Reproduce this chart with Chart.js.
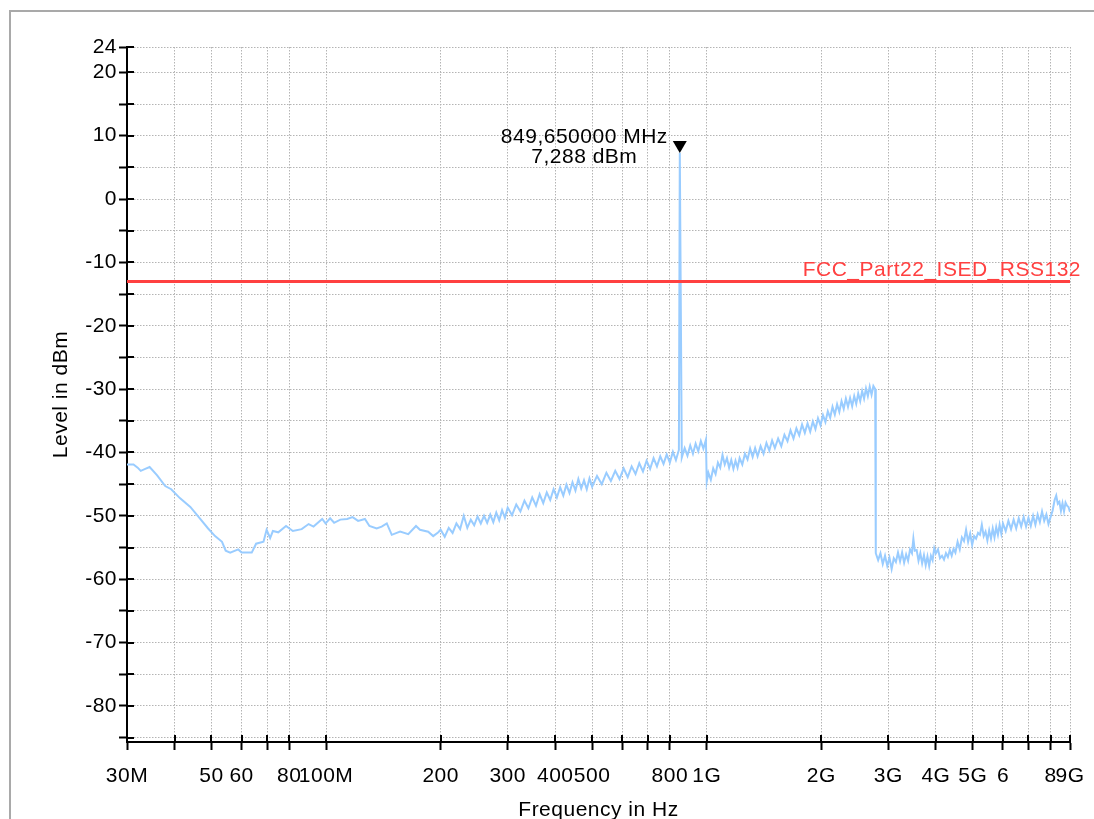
<!DOCTYPE html>
<html>
<head>
<meta charset="utf-8">
<script src="https://cdn.jsdelivr.net/npm/chart.js@4.4.1/dist/chart.umd.min.js"></script>
<style>
  html, body { margin: 0; padding: 0; background: #fff; }
  #wrap { position: relative; width: 1094px; height: 819px; overflow: hidden; }
  #frame { position: absolute; left: 9px; top: 10px; width: 1200px; height: 900px;
           border-left: 2px solid #a9a9a9; border-top: 2px solid #a9a9a9; }
  canvas { position: absolute; left: 0; top: 0; }
</style>
</head>
<body>
<div id="wrap"><div id="frame"></div><canvas id="chart" width="1094" height="819"></canvas></div>
<script>
// sweep 30 MHz - 200 MHz
const bandAFreq = [
  30, 31.2, 32, 32.6, 33.5, 34.4, 36, 37.8, 39.2, 41.3,
  44, 46.6, 49, 51.1, 53.3, 54.5, 56, 58.8, 60, 63.8,
  65.5, 68.5, 69.8, 71.3, 72.5, 74.9, 78.5, 81.8, 86.3, 90,
  92.7, 97.7, 99.7, 102.5, 105, 109, 113.6, 117.4, 121.4, 126.5,
  130, 135.8, 140, 144.4, 148.8, 156.5, 164.4, 172.3, 176.5, 185.5,
  191.2, 197.2
];
const bandALevel = [
  -41.9, -41.9, -42.4, -42.9, -42.6, -42.3, -43.6, -45.3, -45.8, -47.2,
  -48.6, -50.4, -52.0, -53.2, -54.1, -55.5, -55.8, -55.3, -55.8, -55.8,
  -54.4, -54.1, -52.2, -53.5, -52.4, -52.6, -51.6, -52.4, -52.1, -51.3,
  -51.7, -50.5, -51.2, -50.4, -51.1, -50.6, -50.5, -50.2, -50.8, -50.5,
  -51.6, -52.0, -51.7, -51.2, -53.0, -52.5, -52.9, -51.6, -52.2, -52.5,
  -53.2, -52.6
];
// 200 MHz - 1 GHz (carrier at 849.65 MHz)
const bandBFreq = [
  200, 205, 210, 215, 220, 225, 230, 235, 240, 245,
  250, 255, 260, 265, 270, 275, 280, 285, 290, 295,
  300, 308, 316, 324, 332, 340, 348, 356, 364, 372,
  380, 388, 396, 404, 412, 420, 428, 436, 444, 452,
  460, 468, 476, 484, 492, 500, 515, 530, 545, 560,
  575, 590, 605, 620, 635, 650, 665, 680, 695, 710,
  725, 740, 755, 770, 785, 800, 815, 830, 845, 849.65,
  860, 875, 890, 905, 920, 935, 950, 965, 980, 995
];
const bandBLevel = [
  -52.2, -53.3, -51.9, -52.7, -51.2, -52.1, -50.0, -51.9, -50.6, -51.5,
  -50.1, -51.2, -50.0, -51.1, -49.8, -51.0, -49.5, -50.7, -49.1, -50.3,
  -48.7, -49.9, -48.2, -49.3, -47.6, -48.8, -47.1, -48.4, -46.6, -48.0,
  -46.3, -47.5, -45.8, -47.1, -45.5, -46.8, -45.1, -46.4, -44.7, -46.0,
  -44.2, -45.7, -44.4, -45.8, -44.1, -45.4, -43.7, -45.0, -43.2, -44.5,
  -42.9, -44.2, -42.5, -43.9, -42.2, -43.4, -41.7, -43.0, -41.3, -42.6,
  -40.9, -42.2, -40.6, -41.8, -40.3, -41.6, -39.9, -41.2, -39.6, 7.288,
  -40.8, -39.3, -40.5, -38.9, -40.2, -38.6, -39.8, -38.2, -39.4, -38.0
];
// 1 GHz - 2.78 GHz
const bandCFreq = [
  1000, 1010, 1025, 1040, 1055, 1070, 1085, 1100, 1115, 1130,
  1145, 1160, 1175, 1190, 1205, 1220, 1240, 1260, 1280, 1300,
  1320, 1340, 1360, 1385, 1410, 1435, 1460, 1485, 1510, 1540,
  1570, 1600, 1630, 1660, 1690, 1720, 1750, 1780, 1810, 1840,
  1870, 1900, 1930, 1960, 1990, 2020, 2050, 2080, 2110, 2140,
  2170, 2200, 2230, 2260, 2290, 2320, 2350, 2380, 2410, 2440,
  2470, 2500, 2530, 2560, 2590, 2620, 2650, 2680, 2710, 2740,
  2770
];
const bandCLevel = [
  -44.6, -43.2, -44.3, -42.5, -43.4, -41.6, -42.4, -40.4, -41.9, -40.9,
  -42.4, -41.2, -42.6, -41.3, -42.4, -40.9, -41.9, -40.2, -41.1, -39.4,
  -40.7, -39.3, -40.6, -39.0, -40.2, -38.5, -39.7, -38.1, -39.3, -37.8,
  -39.0, -37.2, -38.2, -36.5, -37.8, -36.2, -37.3, -35.6, -36.9, -35.4,
  -36.7, -35.1, -36.3, -34.6, -35.7, -34.1, -35.2, -33.5, -34.5, -32.8,
  -34.0, -32.4, -33.6, -31.9, -33.1, -31.5, -32.8, -31.4, -32.7, -31.1,
  -32.3, -30.7, -31.9, -30.3, -31.5, -29.9, -31.1, -29.6, -30.9, -29.5,
  -30.0
];
// 2.78 GHz - 9 GHz
const bandDFreq = [
  2780, 2820, 2860, 2900, 2940, 2980, 3020, 3060, 3100, 3140,
  3180, 3220, 3260, 3300, 3340, 3380, 3420, 3460, 3490, 3520,
  3560, 3600, 3640, 3680, 3720, 3760, 3800, 3840, 3880, 3920,
  3960, 4000, 4050, 4100, 4150, 4200, 4250, 4300, 4350, 4400,
  4450, 4500, 4560, 4620, 4680, 4740, 4800, 4860, 4920, 4980,
  5040, 5100, 5160, 5220, 5280, 5340, 5400, 5460, 5520, 5580,
  5640, 5700, 5760, 5820, 5880, 5940, 6000, 6100, 6200, 6300,
  6400, 6500, 6600, 6700, 6800, 6900, 7000, 7100, 7200, 7300,
  7400, 7500, 7600, 7700, 7800, 7900, 8000, 8100, 8200, 8280,
  8360, 8440, 8520, 8600, 8680, 8760, 8840, 8920, 9000
];
const bandDLevel = [
  -55.9, -57.0, -55.9, -57.6, -56.3, -57.9, -56.6, -58.4, -56.7, -57.3,
  -55.8, -57.2, -55.8, -57.4, -56.1, -57.1, -55.3, -55.9, -53.6, -55.5,
  -55.4, -57.1, -55.9, -57.5, -56.2, -57.8, -56.4, -57.9, -56.3, -57.0,
  -55.1, -55.9, -55.3, -56.7, -56.3, -56.9, -55.9, -56.5, -55.4, -56.3,
  -55.2, -55.8, -54.1, -55.3, -53.4, -54.0, -52.2, -54.1, -52.8, -54.6,
  -53.2, -53.6, -52.7, -53.0, -51.4, -53.2, -52.5, -53.9, -52.3, -53.6,
  -52.0, -53.4, -51.8, -53.0, -51.4, -52.8, -51.2, -52.4, -50.8, -52.1,
  -50.6, -52.0, -50.4, -51.7, -50.2, -51.7, -50.3, -51.6, -50.0, -51.4,
  -49.8, -51.0, -49.3, -50.8, -49.8, -51.3, -50.2, -49.2, -47.5, -46.8,
  -48.1, -47.8, -49.2, -48.0, -49.3, -47.9, -48.4, -48.6, -49.4
];

const xMin = 30, xMax = 9000;
const yMin = -85.7, yMax = 24;
const xTickValues = [30, 40, 50, 60, 70, 80, 100, 200, 300, 400, 500, 600, 700, 800,
                     1000, 2000, 3000, 4000, 5000, 6000, 7000, 8000, 9000];
const xTickLabels = ['30M', '', '50', '60', '', '80', '100M', '200', '300', '400', '500', '', '', '800',
                     '1G', '2G', '3G', '4G', '5G', '6', '', '8', '9G'];
const yTickValues = [24, 20, 15, 10, 5, 0, -5, -10, -15, -20, -25, -30, -35, -40, -45,
                     -50, -55, -60, -65, -70, -75, -80, -85];
const yTickLabels = ['24', '20', '', '10', '', '0', '', '-10', '', '-20', '', '-30', '', '-40', '',
                     '-50', '', '-60', '', '-70', '', '-80', ''];

const limitName = 'FCC_Part22_ISED_RSS132';
const limitLevel = -13;
const markerFreq = 849.65;
const markerLevel = 7.288;
const markerText = ['849,650000 MHz', '7,288 dBm'];

const traceColor = '#99ccff';
const limitColor = '#ff4040';
const gridColor = '#b4b4b4';
const fontFamily = '"Liberation Sans", Arial, Helvetica, sans-serif';
const fontSize = 21;

const freqMHz = [...bandAFreq, ...bandBFreq, ...bandCFreq, ...bandDFreq];
const levelDbm = [...bandALevel, ...bandBLevel, ...bandCLevel, ...bandDLevel];

Chart.defaults.font.family = fontFamily;
Chart.defaults.font.size = fontSize;
Chart.defaults.color = '#000';

const spacing = {
    id: 'spacing',
    beforeUpdate(chart) { chart.ctx.letterSpacing = '0.5px'; },
    beforeDraw(chart) { chart.ctx.letterSpacing = '0.5px'; }
};

const overlay = {
    id: 'overlay',
    afterDatasetsDraw(chart) {
        const {ctx, chartArea, scales: {x, y}} = chart;
        ctx.save();
        ctx.font = `${fontSize}px ${fontFamily}`;

        // limit line name
        ctx.fillStyle = limitColor;
        ctx.textAlign = 'right';
        ctx.textBaseline = 'alphabetic';
        ctx.fillText(limitName, chartArea.right + 11, y.getPixelForValue(limitLevel) - 5);

        // peak marker
        const mx = x.getPixelForValue(markerFreq);
        const my = y.getPixelForValue(markerLevel);
        ctx.fillStyle = '#000';
        ctx.beginPath();
        ctx.moveTo(mx, my);
        ctx.lineTo(mx - 7, my - 12);
        ctx.lineTo(mx + 7, my - 12);
        ctx.closePath();
        ctx.fill();
        const w = ctx.measureText(markerText[0]).width;
        const cx = mx - 12 - w / 2;
        ctx.textAlign = 'center';
        ctx.fillText(markerText[0], cx, my - 10);
        ctx.fillText(markerText[1], cx, my + 10);
        ctx.restore();
    },
    afterDraw(chart) {
        // tick marks cross the axes, draw the inner half
        const {ctx, chartArea, scales: {x, y}} = chart;
        ctx.save();
        ctx.strokeStyle = '#000';
        ctx.lineWidth = 2;
        ctx.beginPath();
        x.ticks.forEach(t => {
            const px = Math.round(x.getPixelForValue(t.value));
            ctx.moveTo(px, chartArea.bottom);
            ctx.lineTo(px, chartArea.bottom - 7);
        });
        y.ticks.forEach(t => {
            const py = Math.round(y.getPixelForValue(t.value));
            ctx.moveTo(chartArea.left, py);
            ctx.lineTo(chartArea.left + 7, py);
        });
        ctx.stroke();
        ctx.restore();
    }
};

const ctx = document.getElementById('chart').getContext('2d');
new Chart(ctx, {
    type: 'line',
    data: {
        datasets: [{
            label: limitName,
            data: [{x: xMin, y: limitLevel}, {x: xMax, y: limitLevel}],
            borderColor: limitColor,
            borderWidth: 3,
            pointRadius: 0
        }, {
            label: 'Level',
            data: freqMHz.map((f, i) => ({x: f, y: levelDbm[i]})),
            borderColor: traceColor,
            borderWidth: 2,
            pointRadius: 0,
            tension: 0
        }]
    },
    options: {
        responsive: false,
        animation: false,
        layout: {padding: {left: 0, top: 47, right: 24, bottom: 0}},
        plugins: {legend: {display: false}, tooltip: {enabled: false}},
        scales: {
            x: {
                type: 'logarithmic',
                min: xMin,
                max: xMax,
                afterBuildTicks: s => { s.ticks = xTickValues.map(v => ({value: v})); },
                afterFit: s => { s.height = 77; s.paddingLeft = 0; s.paddingRight = 0; },
                ticks: {
                    autoSkip: false,
                    maxRotation: 0,
                    padding: 14,
                    callback: (v, i) => xTickLabels[i]
                },
                grid: {color: gridColor, lineWidth: 1, tickColor: '#000', tickWidth: 2, tickLength: 8},
                border: {display: true, color: '#000', width: 2, dash: [1.5, 1.5]},
                title: {display: true, text: 'Frequency in Hz', padding: {top: 0, bottom: -3.6}}
            },
            y: {
                type: 'linear',
                min: yMin,
                max: yMax,
                afterBuildTicks: s => { s.ticks = yTickValues.map(v => ({value: v})); },
                afterFit: s => { s.width = 127; s.paddingTop = 0; s.paddingBottom = 0; },
                ticks: {
                    autoSkip: false,
                    padding: 2,
                    callback: (v, i) => yTickLabels[i]
                },
                grid: {color: gridColor, lineWidth: 1, tickColor: '#000', tickWidth: 2, tickLength: 8},
                border: {display: true, color: '#000', width: 2, dash: [1.5, 1.5]},
                title: {display: true, text: 'Level in dBm', padding: {top: 49, bottom: 0}}
            }
        }
    },
    plugins: [spacing, overlay]
});
</script>
</body>
</html>
